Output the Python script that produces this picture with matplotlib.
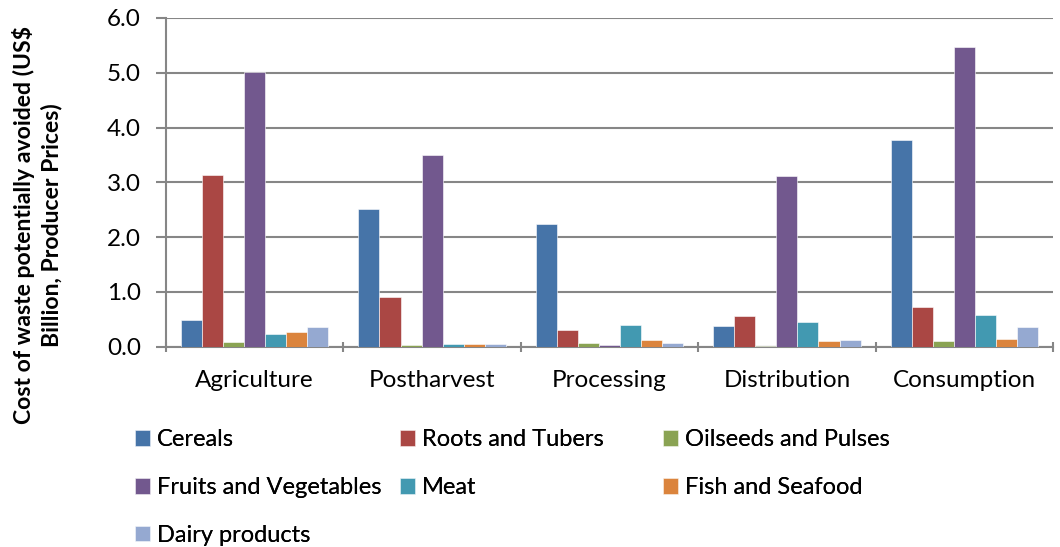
import matplotlib.pyplot as plt
import numpy as np

plt.rcParams['font.family'] = ['Lato', 'DejaVu Sans']

# stages et valeurs (milliards US$)
stages = ["Agriculture", "Postharvest", "Processing", "Distribution", "Consumption"]
cereals = [0.49, 2.52, 2.24, 0.37, 3.77]
roots = [3.14, 0.91, 0.31, 0.55, 0.72]
oilseeds = [0.09, 0.02, 0.07, 0.01, 0.10]
fruits = [5.01, 3.50, 0.02, 3.11, 5.47]
meat = [0.22, 0.04, 0.39, 0.45, 0.57]
fish = [0.27, 0.04, 0.12, 0.10, 0.13]
dairy = [0.35, 0.04, 0.06, 0.12, 0.35]

series = [cereals, roots, oilseeds, fruits, meat, fish, dairy]
names = ["Cereals", "Roots and Tubers", "Oilseeds and Pulses", "Fruits and Vegetables",
         "Meat", "Fish and Seafood", "Dairy products"]
colors = ["#4674A8", "#AA4744", "#8AA353", "#72588E", "#4299B1", "#DB843D", "#95A9D1"]

fig = plt.figure(figsize=(10.6, 5.47), dpi=100)
ax = fig.add_axes([166 / 1060, 1 - 346.5 / 547, 887 / 1060, 328.5 / 547])

x = np.arange(len(stages))
w = 0.1187
bars = []
for i, vals in enumerate(series):
    b = ax.bar(x + (i - 3) * w, vals, width=w, color=colors[i], edgecolor="white",
               linewidth=0.4, label=names[i], zorder=3)
    bars.append(b)

ax.set_xlim(-0.5, 4.5)
ax.set_ylim(0, 6)
ax.set_yticks(np.arange(0, 6.1, 1.0))
ax.set_yticklabels([f"{v:.1f}" for v in np.arange(0, 6.1, 1.0)], fontsize=17.5)
ax.set_xticks(x)
ax.set_xticklabels(stages, fontsize=17.5)
ax.set_xticks(np.arange(-0.5, 5, 1), minor=True)
ax.tick_params(axis="x", which="major", length=0, pad=17)
ax.tick_params(axis="x", which="minor", length=7, width=1.5, color="#868686", direction="inout")
ax.tick_params(axis="y", length=7, width=1.5, color="#868686", direction="out", pad=11)
ax.grid(axis="y", color="#868686", linewidth=1.5, zorder=0)
for s in ["top", "right"]:
    ax.spines[s].set_visible(False)
for s in ["left", "bottom"]:
    ax.spines[s].set_color("#868686")
    ax.spines[s].set_linewidth(1.5)

fig.text(37 / 1060, 1 - 225 / 547, "Cost of waste potentially avoided (US$\nBillion, Producer Prices)",
         rotation=90, ha="center", va="center", fontsize=16.6, fontweight="bold",
         linespacing=1.3)

# légende : 3 colonnes de même largeur, remplies ligne par ligne
columns = [[0, 3, 6], [1, 4], [2, 5]]
col_x = [135, 400, 663]
for cx, idx in zip(col_x, columns):
    leg = fig.legend([bars[k] for k in idx], [names[k] for k in idx],
                     loc="upper left", bbox_to_anchor=(cx / 1060, 1 - 429.5 / 547),
                     frameon=False, fontsize=17, handlelength=0.64, handleheight=0.64,
                     handletextpad=0.3, labelspacing=1.13, borderpad=0, borderaxespad=0)
    fig.add_artist(leg)

plt.savefig("out.png", dpi=100)
